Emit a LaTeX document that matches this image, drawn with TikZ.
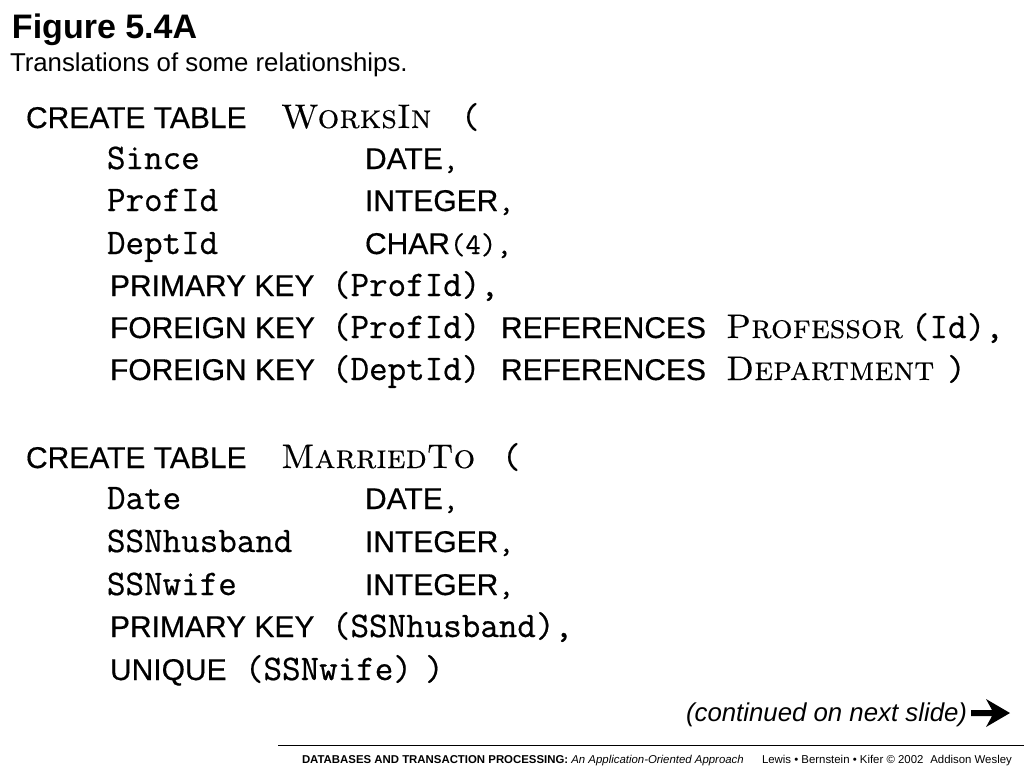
\documentclass[tikz,border=0pt]{standalone}
\usepackage{fontspec}
\newfontfamily\arial{Liberation Sans}
\newfontfamily\arialx{Liberation Sans}[FakeBold=0.45]
\newfontfamily\ttx{Latin Modern Mono}[FakeBold=0.55]
\newfontfamily\lmsc{lmromancaps10-regular.otf}[FakeBold=0.35]
\tikzset{
  txtbase/.style={anchor=base west, inner sep=0pt, outer sep=0pt},
  kwtext/.style={txtbase, font=\arialx\fontsize{30}{30}\selectfont},
  idtext/.style={txtbase, font=\ttx\fontsize{36}{36}\selectfont},
  tntext/.style={txtbase, font=\lmsc\fontsize{34}{34}\selectfont},
}
\begin{document}
\begin{tikzpicture}[x=1pt,y=-1pt]
\useasboundingbox[fill=white] (0,0) rectangle (1024,768);
% title
\node[txtbase, font=\arial\bfseries\fontsize{34}{34}\selectfont] (title) at (12,38) {Figure 5.4A};
\node[txtbase, font=\arial\fontsize{25.8}{25.8}\selectfont] (sub) at (10,71) {Translations of some relationships.};
% WorksIn
\node[kwtext] (ct1) at (26,128) {CREATE TABLE};
\node[tntext] (wi) at (281,128) {WorksIn};
\node[idtext] (wip) at (461,128) {(};
\node[idtext] (since) at (107,169) {Since};
\node[kwtext] (d1) at (365,169) {DATE{\ttx,}};
\node[idtext] (profid) at (107,211) {ProfId};
\node[kwtext] (i1) at (365,211) {INTEGER{\ttx,}};
\node[idtext] (deptid) at (107,254) {DeptId};
\node[kwtext] (c1) at (365,254) {CHAR{\ttx(4),}};
\node[kwtext] (pk1) at (110,296) {PRIMARY KEY};
\node[idtext] (pk1a) at (332,296) {(ProfId),};
\node[kwtext] (fk1) at (110,338) {FOREIGN KEY};
\node[idtext] (fk1a) at (332,338) {(ProfId)};
\node[kwtext] (fk1b) at (501,338) {REFERENCES};
\node[tntext] (fk1c) at (726,338) {Professor};
\node[idtext] (fk1d) at (911,338) {(Id),};
\node[kwtext] (fk2) at (110,380) {FOREIGN KEY};
\node[idtext] (fk2a) at (332,380) {(DeptId)};
\node[kwtext] (fk2b) at (501,380) {REFERENCES};
\node[tntext] (fk2c) at (726,380) {Department};
\node[idtext] (fk2d) at (947,380) {)};
% MarriedTo
\node[kwtext] (ct2) at (26,468) {CREATE TABLE};
\node[tntext] (mt) at (281,468) {MarriedTo};
\node[idtext] (mtp) at (502,468) {(};
\node[idtext] (date) at (107,509) {Date};
\node[kwtext] (d2) at (365,509) {DATE{\ttx,}};
\node[idtext] (ssnh) at (107,552) {SSNhusband};
\node[kwtext] (i2) at (365,552) {INTEGER{\ttx,}};
\node[idtext] (ssnw) at (107,595) {SSNwife};
\node[kwtext] (i3) at (365,595) {INTEGER{\ttx,}};
\node[kwtext] (pk2) at (110,637) {PRIMARY KEY};
\node[idtext] (pk2a) at (332,637) {(SSNhusband),};
\node[kwtext] (un) at (110,680) {UNIQUE};
\node[idtext] (una) at (245,680) {(SSNwife)};
\node[idtext] (unb) at (425,680) {)};
% continued
\node[txtbase, font=\arial\itshape\fontsize{25.8}{25.8}\selectfont] (cont) at (686,721) {(continued on next slide)};
\fill (971,710) -- (992,710) -- (986,699) -- (1010,713) -- (986,727) -- (992,716) -- (971,716) -- cycle;
% footer
\coordinate (fl0) at (278,745);
\coordinate (fl1) at (1024,745);
\draw[line width=1pt] (fl0) -- (fl1);
\node[txtbase, font=\arial\fontsize{11.4}{11.4}\selectfont] (foot) at (302,763) {\textbf{DATABASES AND TRANSACTION PROCESSING:} \textit{An Application-Oriented Approach}\hspace{1.6em}Lewis • Bernstein • Kifer © 2002\hspace{0.6em}Addison Wesley};
\end{tikzpicture}
\end{document}
